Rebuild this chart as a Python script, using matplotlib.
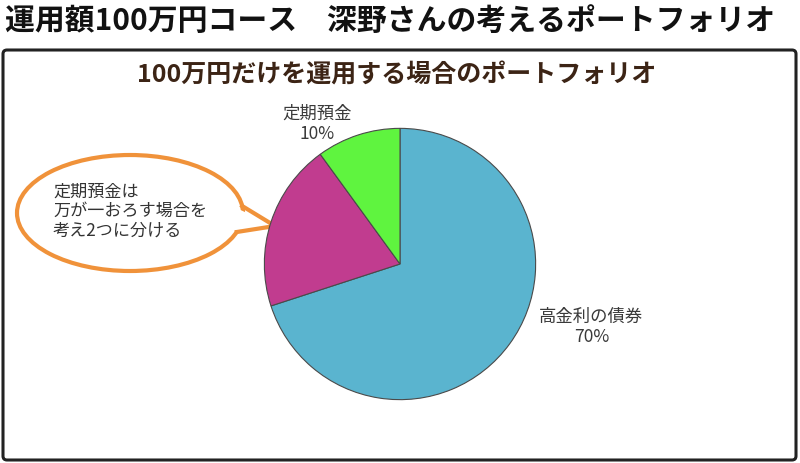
import numpy as np
import matplotlib
matplotlib.use("Agg")
import matplotlib.pyplot as plt
from matplotlib.patches import Ellipse, Polygon, FancyBboxPatch

plt.rcParams['font.family'] = ['Noto Sans CJK JP', 'DejaVu Sans']

main_title = "運用額100万円コース　深野さんの考えるポートフォリオ"
chart_title = "100万円だけを運用する場合のポートフォリオ"
labels = ["高金利の債券", "", "定期預金"]
shares = [70, 20, 10]
colors = ["#5ab4cf", "#c13c8f", "#5ff43f"]
note = "定期預金は\n万が一おろす場合を\n考え2つに分ける"

fig = plt.figure(figsize=(8, 4.64), dpi=100)
fig.patch.set_facecolor("white")

# overlay axes in pixel coordinates
bg = fig.add_axes([0, 0, 1, 1])
bg.set_xlim(0, 800)
bg.set_ylim(464, 0)
bg.axis("off")

bg.text(5, 21, main_title, fontsize=21.5, fontweight="bold", color="#111111",
        ha="left", va="center")

box = FancyBboxPatch((3, 51), 793, 410, boxstyle="round,pad=0,rounding_size=4",
                     facecolor="white", edgecolor="#222222", linewidth=2.2)
bg.add_patch(box)

bg.text(397, 76, chart_title, fontsize=18, fontweight="bold", color="#3c2415",
        ha="center", va="center")

# pie
ax = fig.add_axes([263 / 800, 62 / 464, 274 / 800, 274 / 464])
wedges, _ = ax.pie(shares, colors=colors, startangle=90, counterclock=False,
                   radius=1, wedgeprops=dict(edgecolor="#4a4a4a", linewidth=0.8))
ax.set_xlim(-1.01, 1.01)
ax.set_ylim(-1.01, 1.01)
ax.set_aspect("equal")
ax.axis("off")

# slice labels
label_pos = {0: (1.41, -0.46), 2: (-0.61, 1.04)}
for i, (x, y) in label_pos.items():
    ax.text(x, y, f"{labels[i]}\n{shares[i]}%", fontsize=12.5, color="#3a3a3a",
            ha="center", va="center", linespacing=1.15, clip_on=False)

# callout bubble
orange = "#f0923a"
cx, cy, w, h = 130, 214, 226, 116
bg.add_patch(Ellipse((cx, cy), w, h, facecolor="white", edgecolor=orange,
                     linewidth=3, zorder=3))


def edge_x(y):
    return cx + w / 2 * np.sqrt(1 - ((y - cy) / (h / 2)) ** 2)


p1 = (edge_x(207), 207)
tip = (275, 227)
p2 = (edge_x(233), 233)
bg.add_patch(Polygon([(p1[0] - 6, p1[1] + 2), tip, (p2[0] - 6, p2[1] - 1)], closed=True,
                     facecolor="white", edgecolor="none", zorder=4))
bg.plot([p1[0], tip[0], p2[0]], [p1[1], tip[1], p2[1]],
        color=orange, linewidth=3, solid_joinstyle="miter", zorder=5)
bg.text(53, 211, note, fontsize=12.3, color="#333333", ha="left", va="center",
        linespacing=1.1, zorder=6)

fig.savefig("out.png", dpi=100, facecolor="white")
